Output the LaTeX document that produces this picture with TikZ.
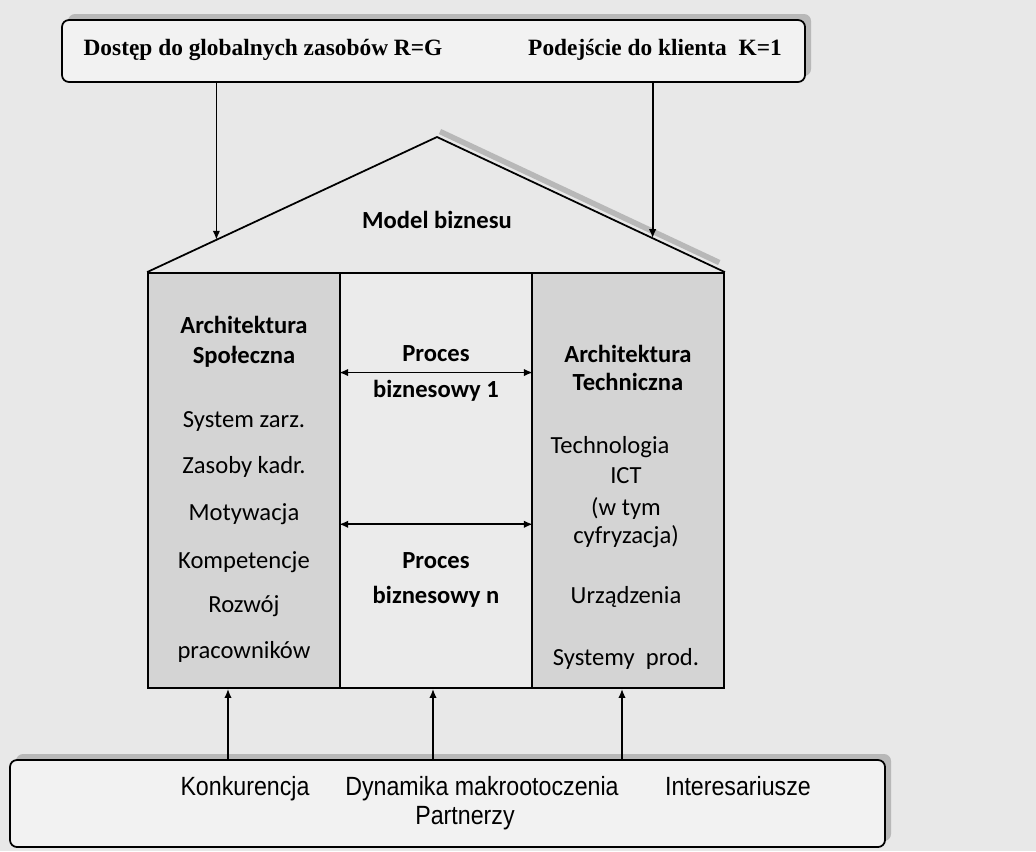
\documentclass[tikz,border=0pt]{standalone}
\usepackage{fontspec}
\setmainfont{Liberation Serif}
\newfontfamily\calib{Carlito}
\newfontfamily\narrowsans[FakeStretch=0.88]{Liberation Sans}
\usetikzlibrary{positioning,calc,arrows.meta,shadows}

\begin{document}
\begin{tikzpicture}[
    x=0.2mm, y=-0.2mm,
    >={Latex[length=1.8mm,width=1.5mm]},
    line width=1pt,
    box/.style={draw, rounded corners=4pt, fill=black!5, inner sep=0pt,
                drop shadow={shadow xshift=1.2mm, shadow yshift=1.2mm, fill=black!28, opacity=1}},
    col/.style={draw, inner sep=0pt, minimum width=38.4mm, minimum height=83mm},
    side/.style={col, fill=black!17},
    mid/.style={col, fill=black!8},
    txt/.style={text height=9.5pt, text depth=3pt, inner sep=1pt},
    lbl/.style={txt, font=\calib\fontsize{14}{16}\selectfont},
    head/.style={txt, font=\calib\bfseries\fontsize{14}{16}\selectfont},
    toptxt/.style={txt, font=\bfseries\fontsize{13.3}{15}\selectfont},
    bottxt/.style={txt, font=\narrowsans\fontsize{15}{17}\selectfont},
  ]
    \fill[black!9] (0,0) rectangle (1036,851);
    \useasboundingbox (0,0) rectangle (1036,851);

    % outer boxes
    \node[box, minimum width=148.6mm, minimum height=12.4mm] (glob) at (433.5,51) {};
    \node[toptxt] (dostep) at (263,50) {Dostęp do globalnych zasobów R=G};
    \node[toptxt] (klient) at (655,50) {Podejście do klienta\ \ K=1};

    \node[box, minimum width=175mm, minimum height=17.4mm] (otocz) at (447.5,803.5) {};
    \node[bottxt] (konk) at (245,790) {Konkurencja};
    \node[bottxt] (dyn)  at (482,790) {Dynamika\ makrootoczenia};
    \node[bottxt] (inter) at (738,790) {Interesariusze};
    \node[bottxt] (partn) at (465,819) {Partnerzy};

    % house
    \node[side] (spol) at (244,480.5) {};
    \node[mid]  (proc) at (436,480.5) {};
    \node[side] (tech) at (628,480.5) {};

    \coordinate (apex) at (437,137);
    \draw[black!28, line width=1.1mm] ([shift={(0.6mm,1.1mm)}]apex) -- ([shift={(0.6mm,1.1mm)}]$(apex)!0.97!(tech.north east)$);
    \draw (spol.north west) -- (apex) -- (tech.north east);
    \node[head] (model) at (437,223) {Model biznesu};

    \coordinate (inL) at ($(spol.north west)!0.239!(apex)$);
    \coordinate (inR) at ($(apex)!0.749!(tech.north east)$);
    \draw[->] (inL |- glob.south) -- (inL);
    \draw[->] (inR |- glob.south) -- (inR);

    \foreach \f in {0.241,0.605}
      \draw[<->] ($(proc.north west)!\f!(proc.south west)$) -- ($(proc.north east)!\f!(proc.south east)$);

    \foreach \x in {228,433,622}
      \draw[->] (\x,0 |- otocz.north) -- (\x,0 |- spol.south);

    % column texts
    \node[head] (arch1) at (244,328) {Architektura};
    \node[head] (arch2) at (244,358) {Społeczna};
    \foreach \t/\y [count=\i] in {System zarz./422, Zasoby kadr./468, Motywacja/515,
                                   Kompetencje/563, Rozwój/607, pracowników/653}
      \node[lbl] (soc\i) at (244,\y) {\t};

    \node[head] (pb1a) at (436,356) {Proces};
    \node[head] (pb1b) at (436,392) {biznesowy 1};
    \node[head] (pbna) at (436,563) {Proces};
    \node[head] (pbnb) at (436,598) {biznesowy n};

    \node[head] (tech1) at (628,357) {Architektura};
    \node[head] (tech2) at (628,385) {Techniczna};
    \node[lbl] (techno) at (610,448) {Technologia};
    \foreach \t/\y [count=\i] in {ICT/478, {(w tym}/510, {cyfryzacja)}/538, Urządzenia/598, {Systemy\ \ prod.}/660}
      \node[lbl] (ict\i) at (626,\y) {\t};
  \end{tikzpicture}
\end{document}
